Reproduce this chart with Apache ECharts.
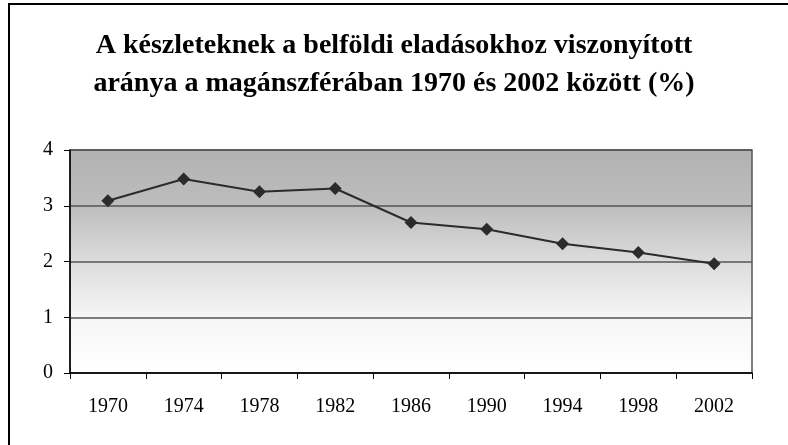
<!DOCTYPE html>
<html>
<head>
<meta charset="utf-8">
<script src="https://cdn.jsdelivr.net/npm/echarts@6/dist/echarts.min.js"></script>
<style>
  html, body { margin: 0; padding: 0; background: #fff; }
  #chart { width: 788px; height: 445px; }
</style>
</head>
<body>
<div id="chart"></div>
<script>
// adatok
const years = ['1970', '1974', '1978', '1982', '1986', '1990', '1994', '1998', '2002'];
const ratio = [3.09, 3.48, 3.25, 3.31, 2.70, 2.58, 2.32, 2.16, 1.96];
const titleLines = [
  'A készleteknek a belföldi eladásokhoz viszonyított',
  'aránya a magánszférában 1970 és 2002 között (%)'
];

const chart = echarts.init(document.getElementById('chart'));
const serif = '"Liberation Serif", "DejaVu Serif", serif';

const option = {
  animation: false,
  backgroundColor: '#fff',
  title: {
    text: titleLines.join('\n'),
    left: 'center',
    top: 22,
    textStyle: {
      fontFamily: serif,
      fontWeight: 'bold',
      fontSize: 28,
      lineHeight: 38,
      color: '#000'
    }
  },
  graphic: [
    {
      type: 'rect',
      shape: { x: 9, y: 4, width: 900, height: 600 },
      style: { fill: 'none', stroke: '#000', lineWidth: 2 },
      z: 0
    }
  ],
  grid: {
    left: 70,
    right: 36,
    top: 150,
    bottom: 72,
    show: true,
    borderColor: '#555',
    borderWidth: 1.5,
    backgroundColor: new echarts.graphic.LinearGradient(0, 0, 0, 1, [
      { offset: 0, color: '#b2b2b2' },
      { offset: 0.25, color: '#bdbdbd' },
      { offset: 0.5, color: '#dcdcdc' },
      { offset: 0.75, color: '#f6f6f6' },
      { offset: 1, color: '#ffffff' }
    ])
  },
  xAxis: {
    type: 'category',
    data: years,
    boundaryGap: true,
    axisLine: { lineStyle: { color: '#000', width: 1.5 } },
    axisTick: { show: true, length: 6, lineStyle: { color: '#000' } },
    axisLabel: {
      fontFamily: serif,
      fontSize: 20,
      color: '#000',
      margin: 24
    },
    splitLine: { show: false }
  },
  yAxis: {
    type: 'value',
    min: 0,
    max: 4,
    interval: 1,
    axisLine: { show: true, lineStyle: { color: '#000', width: 1.5 } },
    axisTick: { show: true, length: 6, lineStyle: { color: '#000' } },
    axisLabel: {
      fontFamily: serif,
      fontSize: 20,
      color: '#000',
      margin: 17
    },
    splitLine: { show: true, lineStyle: { color: '#555', width: 1.5 } }
  },
  series: [
    {
      type: 'line',
      data: ratio,
      symbol: 'diamond',
      symbolSize: 13,
      itemStyle: { color: '#2b2b2b' },
      lineStyle: { color: '#2b2b2b', width: 2 }
    }
  ]
};

chart.setOption(option);
</script>
</body>
</html>
